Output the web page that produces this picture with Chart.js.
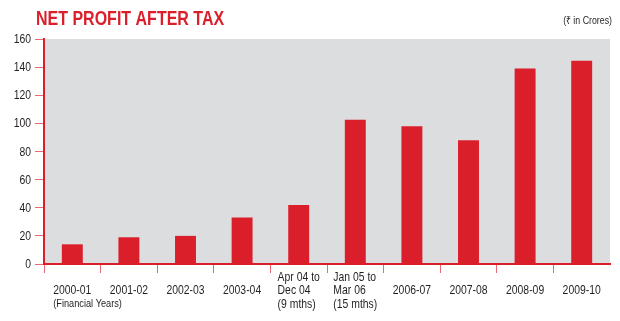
<!DOCTYPE html>
<html>
<head>
<meta charset="utf-8">
<script src="https://cdn.jsdelivr.net/npm/chart.js@4.4.1/dist/chart.umd.min.js"></script>
<style>
  html, body { margin: 0; padding: 0; background: #fff; }
  #wrap { width: 620px; height: 321px; position: relative; }
</style>
</head>
<body>
<div id="wrap"><canvas id="profit"></canvas></div>
<script>
  // --- Data ---
  const periods = [
    ['2000-01'], ['2001-02'], ['2002-03'], ['2003-04'],
    ['Apr 04 to', 'Dec 04', '(9 mths)'],
    ['Jan 05 to', 'Mar 06', '(15 mths)'],
    ['2006-07'], ['2007-08'], ['2008-09'], ['2009-10'],
  ];
  const netProfit = [14, 19, 20, 33, 42, 102.5, 98, 88, 139, 144.5];
  const yTicks = [0, 20, 40, 60, 80, 100, 120, 140, 160];

  const RED = '#da1f2b';
  const PINK = '#ec6a74';
  const TEXT = '#231f20';
  const FONT = "'Liberation Sans', Arial, sans-serif";
  const SQUEEZE = 0.8; // the print uses a condensed face

  // draw condensed text (no narrow font installed)
  function narrowText(ctx, text, x, y, align) {
    const w = ctx.measureText(text).width * SQUEEZE;
    let left = x;
    if (align === 'right') left = x - w;
    else if (align === 'center') left = x - w / 2;
    ctx.save();
    ctx.translate(left, y);
    ctx.scale(SQUEEZE, 1);
    ctx.textAlign = 'left';
    ctx.fillText(text, 0, 0);
    ctx.restore();
  }

  // --- Grey plot background ---
  const plotBg = {
    id: 'plotBg',
    beforeDraw(chart) {
      const { ctx, chartArea: a } = chart;
      ctx.save();
      ctx.fillStyle = '#dcdddf';
      ctx.fillRect(a.left, a.top, a.right - a.left, a.bottom - a.top);
      ctx.restore();
    },
  };

  // --- Title, unit note, y numbers and the category labels ---
  const texts = {
    id: 'texts',
    afterDraw(chart) {
      const { ctx } = chart;
      const x = chart.scales.x;
      const y = chart.scales.y;
      ctx.save();

      ctx.fillStyle = RED;
      ctx.font = `bold 20px ${FONT}`;
      ctx.textBaseline = 'alphabetic';
      narrowText(ctx, 'NET PROFIT AFTER TAX', 36, 24.5);

      ctx.fillStyle = TEXT;
      ctx.font = `11px ${FONT}`;
      narrowText(ctx, '(\u20B9 in Crores)', 612, 24, 'right');

      ctx.textBaseline = 'middle';
      ctx.font = `13px ${FONT}`;
      yTicks.forEach(v => narrowText(ctx, String(v), 31, y.getPixelForValue(v) + 0.5, 'right'));

      const rows = [277, 290.5, 304];
      periods.forEach((lines, i) => {
        const cx = x.getPixelForValue(i);
        const w = Math.max(...lines.map(l => ctx.measureText(l).width)) * SQUEEZE;
        const left = cx - w / 2;
        const start = lines.length === 1 ? 1 : 0;
        lines.forEach((l, j) => narrowText(ctx, l, left, rows[start + j]));
        if (i === 0) {
          ctx.font = `11.5px ${FONT}`;
          narrowText(ctx, '(Financial Years)', left, rows[2]);
          ctx.font = `13px ${FONT}`;
        }
      });
      ctx.restore();
    },
  };

  new Chart(document.getElementById('profit'), {
    type: 'bar',
    data: {
      labels: periods.map(p => p.join(' ')),
      datasets: [{
        data: netProfit,
        backgroundColor: RED,
        borderWidth: 0,
        categoryPercentage: 1,
        barPercentage: 0.37,
      }],
    },
    options: {
      responsive: true,
      maintainAspectRatio: false,
      animation: false,
      layout: { padding: { top: 39, right: 10, left: 0, bottom: 0 } },
      plugins: {
        legend: { display: false },
        tooltip: { enabled: false },
      },
      scales: {
        x: {
          grid: {
            offset: true,
            drawOnChartArea: false,
            tickLength: 9,
            // no mark at the far right end
            color: c => (c.type === 'tick' ? PINK : 'rgba(0,0,0,0)'),
          },
          border: { color: RED, width: 2 },
          ticks: { display: false },
          afterFit(s) { s.height = 57; },
        },
        y: {
          min: 0,
          max: 160,
          afterBuildTicks(s) { s.ticks = yTicks.map(v => ({ value: v })); },
          grid: {
            drawOnChartArea: false,
            tickLength: 9,
            color: PINK,
          },
          border: { color: RED, width: 2 },
          ticks: { display: false },
          afterFit(s) { s.width = 44; },
        },
      },
    },
    plugins: [plotBg, texts],
  });
</script>
</body>
</html>
